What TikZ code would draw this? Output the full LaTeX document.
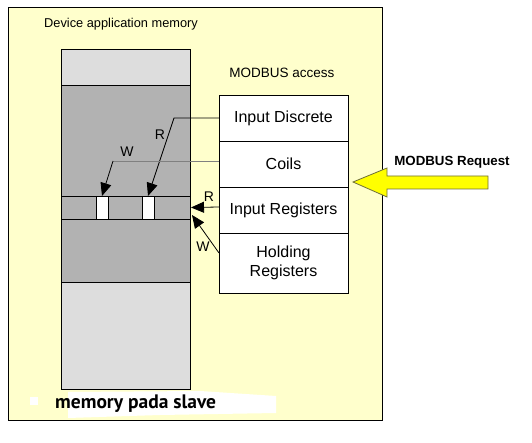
\documentclass[tikz,border=0pt]{standalone}
\usepackage{fontspec}
\setmainfont{Liberation Sans}
\newfontfamily\bottomfont{PT Sans}
\usetikzlibrary{arrows.meta,calc}
\definecolor{bgyellow}{HTML}{FFFFCC}
\definecolor{darkgr}{HTML}{B2B2B2}
\definecolor{lightgr}{HTML}{DDDDDD}
\definecolor{arrowyel}{HTML}{FFFF00}
\definecolor{arrowedge}{HTML}{6E6E3A}
\begin{document}
\begin{tikzpicture}[x=1pt,y=-1pt,
  box/.style={draw, line width=0.9pt, inner sep=0pt, outer sep=0pt, anchor=north west},
  regbox/.style={box, fill=white, minimum width=129pt, font=\fontsize{16}{19}\selectfont, align=center},
  conn/.style={line width=0.8pt, -{Triangle[length=13pt,width=11pt]}},
  lab/.style={font=\fontsize{13}{15}\selectfont, inner sep=0pt}]
\useasboundingbox (0,0) rectangle (532,443);
% outer area
\node[box, fill=bgyellow, minimum width=373.5pt, minimum height=412.5pt] (outer) at (8.5,7.5) {};
\node[lab, anchor=west, font=\fontsize{12.8}{15}\selectfont] (title) at (44,24) {Device application memory};
% memory column
\node[box, fill=lightgr, minimum width=129pt, minimum height=36pt] (top) at (61,49) {};
\node[box, fill=darkgr, minimum width=129pt, minimum height=197pt] (mid) at (61,85) {};
\node[box, fill=lightgr, minimum width=129pt, minimum height=107pt] (bot) at (61,282) {};
\node[box, fill=darkgr, minimum width=129pt, minimum height=23pt] (band) at (61,196) {};
\node[box, fill=white, minimum width=12pt, minimum height=23pt] (slotA) at (96,196) {};
\node[box, fill=white, minimum width=12pt, minimum height=23pt] (slotB) at (142,196) {};
% modbus access
\node[lab, font=\fontsize{13.5}{15}\selectfont] (access) at (282,73) {MODBUS access};
\node[regbox, minimum height=46pt] (id) at (219,95) {Input Discrete};
\node[regbox, minimum height=46pt] (coils) at (219,141) {Coils};
\node[regbox, minimum height=46pt] (ir) at (219,187) {Input Registers};
\node[regbox, minimum height=60pt] (hr) at (219,233) {Holding\\Registers};
% connectors
\coordinate (bendR) at (174,118);
\coordinate (bendW) at (113,161);
\draw[conn] (id.west) -- (bendR) -- (slotB.north);
\node[lab, font=\fontsize{14}{16}\selectfont] (r1) at (160,135) {R};
\draw[line width=0.8pt, draw=gray] ([yshift=3pt]coils.west) -- (bendW);
\draw[conn] (bendW) -- (slotA.north);
\node[lab, font=\fontsize{14}{16}\selectfont] (w1) at (127,152) {W};
\draw[conn] ([yshift=3pt]ir.west) -- ([xshift=1pt]band.east);
\node[lab, font=\fontsize{14}{16}\selectfont] (r2) at (209,197) {R};
\draw[conn] ($(hr.north west)+(0,20)$) -- ($(band.south east)+(2,-4)$);
\node[lab, font=\fontsize{14}{16}\selectfont] (w2) at (203,247) {W};
% modbus request arrow
\draw[fill=arrowyel, draw=arrowedge, line width=0.8pt] (353,182) -- (387,168) -- (387,176) -- (488,176) -- (488,189) -- (387,189) -- (387,197) -- cycle;
\node[lab, font=\bfseries\fontsize{13.3}{15}\selectfont] (req) at (452,162) {MODBUS Request};
% bottom caption
\fill[white] (68,392) -- (200,391) -- (276,396) -- (276,413) -- (160,415) -- (68,418) -- cycle;
\fill[white] (30,397) rectangle (38,405);
\node[inner sep=0pt, anchor=base west, font=\bottomfont\bfseries\fontsize{19.5}{21}\selectfont] (cap) at (55,408) {memory pada slave};
\end{tikzpicture}
\end{document}
